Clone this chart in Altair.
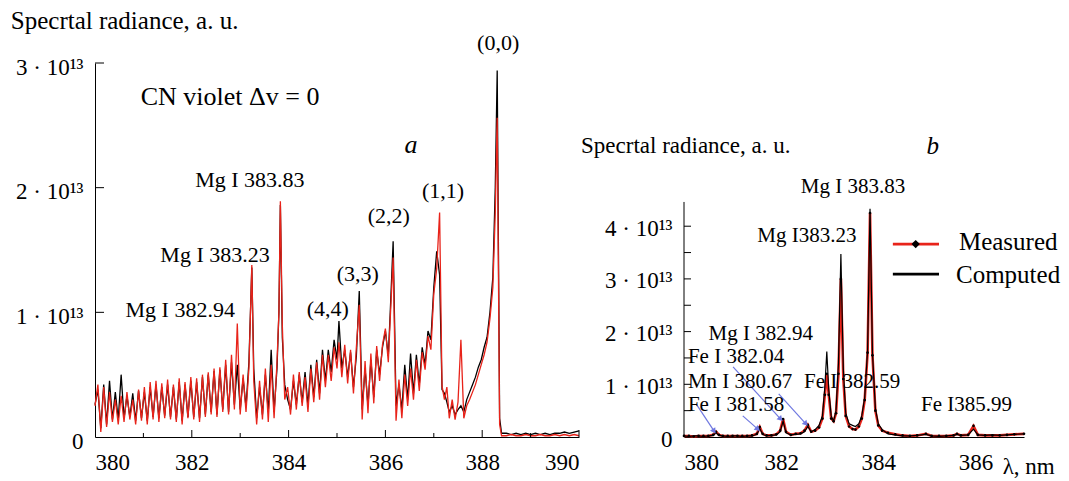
import altair as alt
import pandas as pd
import numpy as np

FONT = "Liberation Serif"
RED = "#e8231a"
BLUE = "#6f78e0"

# ---------------- Panel a: CN violet, values in units of 1e13 ----------------
lam_a = [380.00, 380.06, 380.12, 380.18, 380.24, 380.30, 380.36, 380.42, 380.48, 380.54,
         380.60, 380.66, 380.72, 380.78, 380.84, 380.90, 380.96, 381.02, 381.08, 381.14,
         381.20, 381.26, 381.32, 381.38, 381.44, 381.50, 381.56, 381.62, 381.68, 381.74,
         381.80, 381.86, 381.92, 381.98,
         382.04, 382.10, 382.16, 382.22, 382.28, 382.34, 382.40, 382.46, 382.52, 382.58,
         382.64, 382.70, 382.76, 382.82, 382.88,
         382.94, 383.00, 383.06, 383.12, 383.18, 383.24, 383.28, 383.34, 383.40, 383.46,
         383.52, 383.58, 383.64, 383.70, 383.76, 383.80, 383.83, 383.87, 383.92, 383.98,
         384.04, 384.10, 384.16, 384.22, 384.28, 384.34, 384.40, 384.46, 384.52, 384.58,
         384.64, 384.70,
         384.76, 384.82, 384.88, 384.94, 385.00, 385.04, 385.10, 385.16, 385.22, 385.28,
         385.34, 385.40,
         385.46, 385.52, 385.58, 385.64, 385.70, 385.76, 385.82, 385.88, 385.94, 386.00,
         386.06, 386.10, 386.16, 386.22, 386.28, 386.34, 386.40, 386.46, 386.52, 386.58,
         386.64, 386.70, 386.76, 386.82, 386.88, 386.94, 387.00, 387.06, 387.12, 387.17,
         387.22, 387.27, 387.32, 387.38, 387.44, 387.50, 387.56, 387.62, 387.68, 387.74,
         387.80, 387.86, 387.92, 387.98, 388.04, 388.10, 388.16, 388.22, 388.27, 388.31,
         388.36, 388.40, 388.50, 388.60, 388.70, 388.80, 388.90, 389.00, 389.10, 389.20,
         389.30, 389.40, 389.50, 389.60, 389.70, 389.80, 389.90, 390.00]

meas_a = [0.25, 0.42, 0.04, 0.40, 0.08, 0.36, 0.12, 0.30, 0.10, 0.33,
          0.12, 0.36, 0.14, 0.30, 0.10, 0.38, 0.13, 0.40, 0.10, 0.44,
          0.14, 0.45, 0.12, 0.43, 0.15, 0.46, 0.14, 0.42, 0.12, 0.47,
          0.10, 0.44, 0.15, 0.48,
          0.14, 0.47, 0.12, 0.50, 0.16, 0.52, 0.18, 0.55, 0.16, 0.56,
          0.20, 0.62, 0.18, 0.66, 0.22,
          0.91, 0.18, 0.50, 0.20, 0.55, 1.38, 0.45, 0.10, 0.45, 0.14,
          0.55, 0.12, 0.58, 0.15, 0.60, 1.00, 1.89, 0.90, 0.30, 0.40,
          0.18, 0.50, 0.22, 0.52, 0.25, 0.48, 0.20, 0.55, 0.28, 0.60,
          0.30, 0.66,
          0.40, 0.66, 0.45, 0.72, 0.55, 0.76, 0.48, 0.74, 0.43, 0.70,
          0.35, 0.72,
          1.06, 0.14, 0.61, 0.19, 0.67, 0.27, 0.73, 0.45, 0.74, 0.87,
          0.60, 0.95, 1.44, 0.13, 0.46, 0.15, 0.50, 0.25, 0.55, 0.30,
          0.62, 0.37, 0.68, 0.54, 0.81, 0.70, 1.15, 1.35, 1.80, 0.41,
          0.30, 0.40, 0.15, 0.30, 0.14, 0.28, 0.78, 0.15, 0.25, 0.30,
          0.36, 0.42, 0.50, 0.58, 0.66, 0.76, 0.95, 1.20, 1.80, 2.56,
          0.10, 0.01, 0.01, 0.02, 0.01, 0.01, 0.02, 0.01, 0.01, 0.02,
          0.01, 0.01, 0.02, 0.01, 0.02, 0.01, 0.02, 0.01]

comp_a = [0.26, 0.38, 0.07, 0.42, 0.10, 0.45, 0.14, 0.36, 0.14, 0.50,
          0.15, 0.33, 0.16, 0.35, 0.13, 0.37, 0.15, 0.36, 0.13, 0.40,
          0.16, 0.42, 0.15, 0.40, 0.17, 0.42, 0.16, 0.40, 0.14, 0.44,
          0.13, 0.42, 0.16, 0.45,
          0.16, 0.44, 0.15, 0.48, 0.18, 0.50, 0.20, 0.53, 0.18, 0.54,
          0.22, 0.58, 0.20, 0.60, 0.26,
          0.58, 0.22, 0.47, 0.24, 0.60, 1.36, 0.55, 0.15, 0.40, 0.18,
          0.50, 0.20, 0.70, 0.20, 0.55, 1.00, 1.86, 0.80, 0.42, 0.30,
          0.22, 0.45, 0.26, 0.50, 0.28, 0.52, 0.25, 0.58, 0.32, 0.62,
          0.35, 0.70,
          0.45, 0.70, 0.52, 0.78, 0.62, 0.93, 0.55, 0.70, 0.48, 0.68,
          0.40, 0.65,
          1.17, 0.22, 0.55, 0.25, 0.62, 0.32, 0.70, 0.50, 0.72, 0.85,
          0.65, 1.00, 1.57, 0.25, 0.42, 0.22, 0.58, 0.30, 0.67, 0.35,
          0.66, 0.42, 0.72, 0.58, 0.85, 0.78, 1.20, 1.49, 1.30, 0.38,
          0.35, 0.28, 0.20, 0.25, 0.18, 0.22, 0.25, 0.20, 0.30, 0.36,
          0.42, 0.48, 0.56, 0.62, 0.72, 0.80, 1.00, 1.28, 2.00, 2.94,
          0.15, 0.03, 0.03, 0.02, 0.03, 0.02, 0.03, 0.02, 0.03, 0.02,
          0.03, 0.02, 0.03, 0.03, 0.04, 0.03, 0.04, 0.05]

# ---------------- Panel b: atomic lines, values in units of 1e13 ----------------
lam_b = [380.00, 380.10, 380.20, 380.30, 380.40, 380.50, 380.60, 380.66, 380.72, 380.80,
         380.90, 381.00, 381.10, 381.20, 381.30, 381.40, 381.50, 381.56, 381.62, 381.70,
         381.80, 381.90, 381.98, 382.04, 382.10, 382.20, 382.30, 382.40, 382.48, 382.55,
         382.62, 382.70, 382.78, 382.85, 382.90, 382.94, 382.98, 383.03, 383.08, 383.13,
         383.18, 383.23, 383.28, 383.33, 383.40, 383.47, 383.53, 383.60, 383.66, 383.72,
         383.78, 383.83, 383.88, 383.94, 384.00, 384.08, 384.20, 384.35, 384.50, 384.65,
         384.80, 384.98, 385.10, 385.25, 385.40, 385.55, 385.62, 385.70, 385.85, 385.96,
         386.05, 386.20, 386.35, 386.50, 386.65, 386.80, 387.00]
meas_b = [0.02, 0.02, 0.01, 0.02, 0.02, 0.02, 0.04, 0.10, 0.04, 0.02,
          0.02, 0.02, 0.02, 0.02, 0.02, 0.03, 0.06, 0.19, 0.06, 0.03,
          0.03, 0.05, 0.12, 0.34, 0.10, 0.04, 0.06, 0.07, 0.12, 0.23,
          0.10, 0.12, 0.18, 0.35, 0.80, 1.20, 0.80, 0.35, 0.30, 0.45,
          1.20, 3.00, 1.10, 0.40, 0.20, 0.15, 0.14, 0.20, 0.35, 0.70,
          1.60, 4.25, 1.55, 0.50, 0.22, 0.12, 0.08, 0.05, 0.03, 0.02,
          0.03, 0.06, 0.02, 0.02, 0.02, 0.03, 0.06, 0.03, 0.04, 0.21,
          0.04, 0.03, 0.03, 0.03, 0.04, 0.05, 0.06]
comp_b = [0.02, 0.01, 0.02, 0.02, 0.01, 0.02, 0.03, 0.08, 0.03, 0.02,
          0.01, 0.02, 0.02, 0.01, 0.02, 0.02, 0.05, 0.16, 0.05, 0.02,
          0.03, 0.04, 0.10, 0.30, 0.08, 0.04, 0.05, 0.06, 0.10, 0.20,
          0.10, 0.14, 0.22, 0.40, 0.95, 1.62, 0.90, 0.40, 0.30, 0.50,
          1.40, 3.47, 1.30, 0.45, 0.25, 0.22, 0.20, 0.25, 0.40, 0.75,
          1.65, 4.33, 1.60, 0.55, 0.25, 0.14, 0.06, 0.04, 0.02, 0.02,
          0.03, 0.05, 0.02, 0.01, 0.02, 0.03, 0.05, 0.03, 0.04, 0.15,
          0.04, 0.03, 0.04, 0.03, 0.04, 0.05, 0.06]

# annotation texts
a_labels = ["(0,0)", "(1,1)", "(2,2)", "(3,3)", "(4,4)",
            "Mg I 383.83", "Mg I 383.23", "Mg I 382.94"]
a_lab_x = [388.33, 387.19, 386.07, 385.43, 384.81, 383.20, 382.48, 381.76]
a_lab_y = [3.16, 1.97, 1.77, 1.31, 1.03, 2.06, 1.46, 1.02]

b_labels_c = ["Mg I 383.83", "Mg I383.23", "Mg I 382.94"]
b_lab_c_x = [383.48, 382.53, 381.58]
b_lab_c_y = [4.74, 3.81, 1.95]
b_labels_l = ["Fe I 382.04", "Mn I 380.67", "Fe I 381.58", "Fe I 382.59", "Fe I385.99"]
b_lab_l_x = [380.08, 380.08, 380.08, 382.47, 384.88]
b_lab_l_y = [1.52, 1.04, 0.61, 1.04, 0.61]

arr_x1 = [380.25, 381.21, 381.01, 381.95]
arr_y1 = [0.63, 0.40, 1.33, 0.82]
arr_x2 = [380.62, 381.52, 381.99, 382.51]
arr_y2 = [0.11, 0.15, 0.34, 0.25]

# ---------------- geometry of the panels ----------------
WA, HA = 484, 374
WB, HB = 340, 374
YA_MAX = 3.0
YB_MAX = 7.097
PXB = WB / 7.0
PYB = HB / YB_MAX

E13 = "datum.value == 0 ? '0' : datum.value + ' · 10¹³'"

def txt(df, **kw):
    base = dict(font=FONT, color="black")
    base.update(kw)
    return alt.Chart(df).mark_text(**base)

# ======== Panel a ========
da = pd.DataFrame({"lam": lam_a, "meas": meas_a, "comp": comp_a})
xa = alt.Scale(domain=[380, 390], nice=False, zero=False)
ya = alt.Scale(domain=[0, YA_MAX], nice=False)
xa_axis = alt.Axis(values=[380, 382, 384, 386, 388, 390], format="d", ticks=False, tickSize=0,
                   grid=False, title=None, domainColor="black", labelFont=FONT,
                   labelFontSize=23, labelColor="black", labelPadding=14)
ya_axis = alt.Axis(values=[0, 1, 2, 3], labelExpr=E13, ticks=False, tickSize=0, grid=False,
                   title=None, domainColor="black", labelFont=FONT, labelFontSize=23,
                   labelColor="black", labelPadding=12, labelBaseline="middle",
                   labelOffset=4)

comp_line_a = alt.Chart(da).mark_line(color="black", strokeWidth=1.3).encode(
    x=alt.X("lam:Q", scale=xa, axis=xa_axis), y=alt.Y("comp:Q", scale=ya, axis=ya_axis))
meas_line_a = alt.Chart(da).mark_line(color=RED, strokeWidth=1.3).encode(
    x=alt.X("lam:Q", scale=xa), y=alt.Y("meas:Q", scale=ya))

ytk_a = alt.Chart(pd.DataFrame({"v": [1, 2, 3]})).mark_rule(color="black").encode(
    y=alt.Y("v:Q", scale=ya), x=alt.value(0), x2=alt.value(9))
xtk_a = alt.Chart(pd.DataFrame({"v": [382, 384, 386, 388, 390]})).mark_rule(color="black").encode(
    x=alt.X("v:Q", scale=xa), y=alt.value(HA), y2=alt.value(HA - 7))
xtk_a2 = alt.Chart(pd.DataFrame({"v": [381, 383, 385, 387, 389]})).mark_rule(color="black").encode(
    x=alt.X("v:Q", scale=xa), y=alt.value(HA), y2=alt.value(HA - 4))

lab_a = txt(pd.DataFrame({"x": a_lab_x, "y": a_lab_y, "t": a_labels}), fontSize=22,
            align="center", baseline="middle").encode(
    x=alt.X("x:Q", scale=xa), y=alt.Y("y:Q", scale=ya), text="t:N")
cn_a = txt(pd.DataFrame({"x": [382.79], "y": [2.73], "t": ["CN violet Δv = 0"]}), fontSize=26,
           align="center", baseline="middle").encode(
    x=alt.X("x:Q", scale=xa), y=alt.Y("y:Q", scale=ya), text="t:N")
let_a = txt(pd.DataFrame({"x": [386.53], "y": [2.34], "t": ["a"]}), fontSize=26,
            fontStyle="italic", align="center", baseline="middle").encode(
    x=alt.X("x:Q", scale=xa), y=alt.Y("y:Q", scale=ya), text="t:N")
tit_a = txt(pd.DataFrame({"x": [378.26], "y": [3.34], "t": ["Specrtal radiance, a. u."]}),
            fontSize=25, align="left", baseline="middle").encode(
    x=alt.X("x:Q", scale=xa), y=alt.Y("y:Q", scale=ya), text="t:N")

panel_a = alt.layer(comp_line_a, meas_line_a, ytk_a, xtk_a, xtk_a2, lab_a, cn_a, let_a,
                    tit_a).properties(width=WA, height=HA)

# ======== Panel b ========
db = pd.DataFrame({"lam": lam_b, "meas": meas_b, "comp": comp_b})
xb = alt.Scale(domain=[380, 387], nice=False, zero=False)
yb = alt.Scale(domain=[0, YB_MAX], nice=False)
xb_axis = alt.Axis(values=[380, 382, 384, 386], format="d", ticks=False, tickSize=0,
                   grid=False, title=None, domainColor="black", labelFont=FONT,
                   labelFontSize=23, labelColor="black", labelPadding=14)
yb_axis = alt.Axis(values=[0, 1, 2, 3, 4], labelExpr=E13, ticks=False, tickSize=0,
                   grid=False, domain=False, title=None, labelFont=FONT, labelFontSize=23,
                   labelColor="black", labelPadding=12, labelBaseline="middle",
                   labelOffset=2)

meas_line_b = alt.Chart(db).mark_line(color=RED, strokeWidth=2.6).encode(
    x=alt.X("lam:Q", scale=xb, axis=xb_axis), y=alt.Y("meas:Q", scale=yb, axis=yb_axis))
meas_pts_b = alt.Chart(db).mark_circle(color="black", size=7, opacity=1).encode(
    x=alt.X("lam:Q", scale=xb), y=alt.Y("meas:Q", scale=yb))
comp_line_b = alt.Chart(db).mark_line(color="black", strokeWidth=1.2).encode(
    x=alt.X("lam:Q", scale=xb), y=alt.Y("comp:Q", scale=yb))

yaxis_b = alt.Chart(pd.DataFrame({"y": [0.0], "y2": [4.46]})).mark_rule(color="black").encode(
    x=alt.value(0), y=alt.Y("y:Q", scale=yb), y2="y2:Q")
ytk_b = alt.Chart(pd.DataFrame({"v": [0.5, 1, 1.5, 2, 2.5, 3, 3.5, 4]})).mark_rule(
    color="black").encode(y=alt.Y("v:Q", scale=yb), x=alt.value(0), x2=alt.value(7))

arr = pd.DataFrame({"x": arr_x1, "y": arr_y1, "x2": arr_x2, "y2": arr_y2})
arr["ang"] = (np.degrees(np.arctan2((arr.x2 - arr.x) * PXB, (arr.y2 - arr.y) * PYB)) + 360) % 360
arr_lines = alt.Chart(arr).mark_rule(color=BLUE, strokeWidth=1.2).encode(
    x=alt.X("x:Q", scale=xb), y=alt.Y("y:Q", scale=yb), x2="x2:Q", y2="y2:Q")
arr_heads = alt.Chart(arr).mark_point(shape="triangle-up", filled=True, color=BLUE, size=40,
                                      opacity=1).encode(
    x=alt.X("x2:Q", scale=xb), y=alt.Y("y2:Q", scale=yb), angle=alt.Angle("ang:Q", scale=None))

labc_b = txt(pd.DataFrame({"x": b_lab_c_x, "y": b_lab_c_y, "t": b_labels_c}), fontSize=21,
             align="center", baseline="middle").encode(
    x=alt.X("x:Q", scale=xb), y=alt.Y("y:Q", scale=yb), text="t:N")
labl_b = txt(pd.DataFrame({"x": b_lab_l_x, "y": b_lab_l_y, "t": b_labels_l}), fontSize=21,
             align="left", baseline="middle").encode(
    x=alt.X("x:Q", scale=xb), y=alt.Y("y:Q", scale=yb), text="t:N")
tit_b = txt(pd.DataFrame({"x": [377.88], "y": [5.52], "t": ["Specrtal radiance, a. u."]}),
            fontSize=23, align="left", baseline="middle").encode(
    x=alt.X("x:Q", scale=xb), y=alt.Y("y:Q", scale=yb), text="t:N")
let_b = txt(pd.DataFrame({"x": [385.12], "y": [5.52], "t": ["b"]}), fontSize=25,
            fontStyle="italic", align="center", baseline="middle").encode(
    x=alt.X("x:Q", scale=xb), y=alt.Y("y:Q", scale=yb), text="t:N")
lam_lbl = txt(pd.DataFrame({"x": [386.56], "y": [-0.57], "t": ["λ, nm"]}), fontSize=23,
              align="left", baseline="middle").encode(
    x=alt.X("x:Q", scale=xb), y=alt.Y("y:Q", scale=yb), text="t:N")

# legend (drawn by hand)
leg = pd.DataFrame({"x": [384.30, 384.30], "x2": [385.25, 385.25], "y": [3.66, 3.09],
                    "c": ["Measured", "Computed"]})
leg_red = alt.Chart(leg.iloc[[0]]).mark_rule(color=RED, strokeWidth=2.6).encode(
    x=alt.X("x:Q", scale=xb), x2="x2:Q", y=alt.Y("y:Q", scale=yb))
leg_blk = alt.Chart(leg.iloc[[1]]).mark_rule(color="black", strokeWidth=2.6).encode(
    x=alt.X("x:Q", scale=xb), x2="x2:Q", y=alt.Y("y:Q", scale=yb))
leg_pt = alt.Chart(pd.DataFrame({"x": [384.77], "y": [3.66]})).mark_point(
    shape="diamond", filled=True, color="black", size=70, opacity=1).encode(
    x=alt.X("x:Q", scale=xb), y=alt.Y("y:Q", scale=yb))
leg_txt = txt(pd.DataFrame({"x": [385.66, 385.60], "y": [3.70, 3.07],
                            "t": ["Measured", "Computed"]}), fontSize=25,
              align="left", baseline="middle").encode(
    x=alt.X("x:Q", scale=xb), y=alt.Y("y:Q", scale=yb), text="t:N")

panel_b = alt.layer(meas_line_b, comp_line_b, meas_pts_b, yaxis_b, ytk_b, arr_lines,
                    arr_heads, labc_b, labl_b, tit_b, let_b, lam_lbl, leg_red, leg_blk,
                    leg_pt, leg_txt).properties(width=WB, height=HB)

chart = alt.hconcat(panel_a, panel_b, spacing=105, bounds="flush").properties(
    padding={"left": 2, "top": 0, "right": 0, "bottom": 0}, background="white"
).configure_view(stroke=None)

chart.save("out.html", embed_options={"renderer": "svg", "actions": False})
